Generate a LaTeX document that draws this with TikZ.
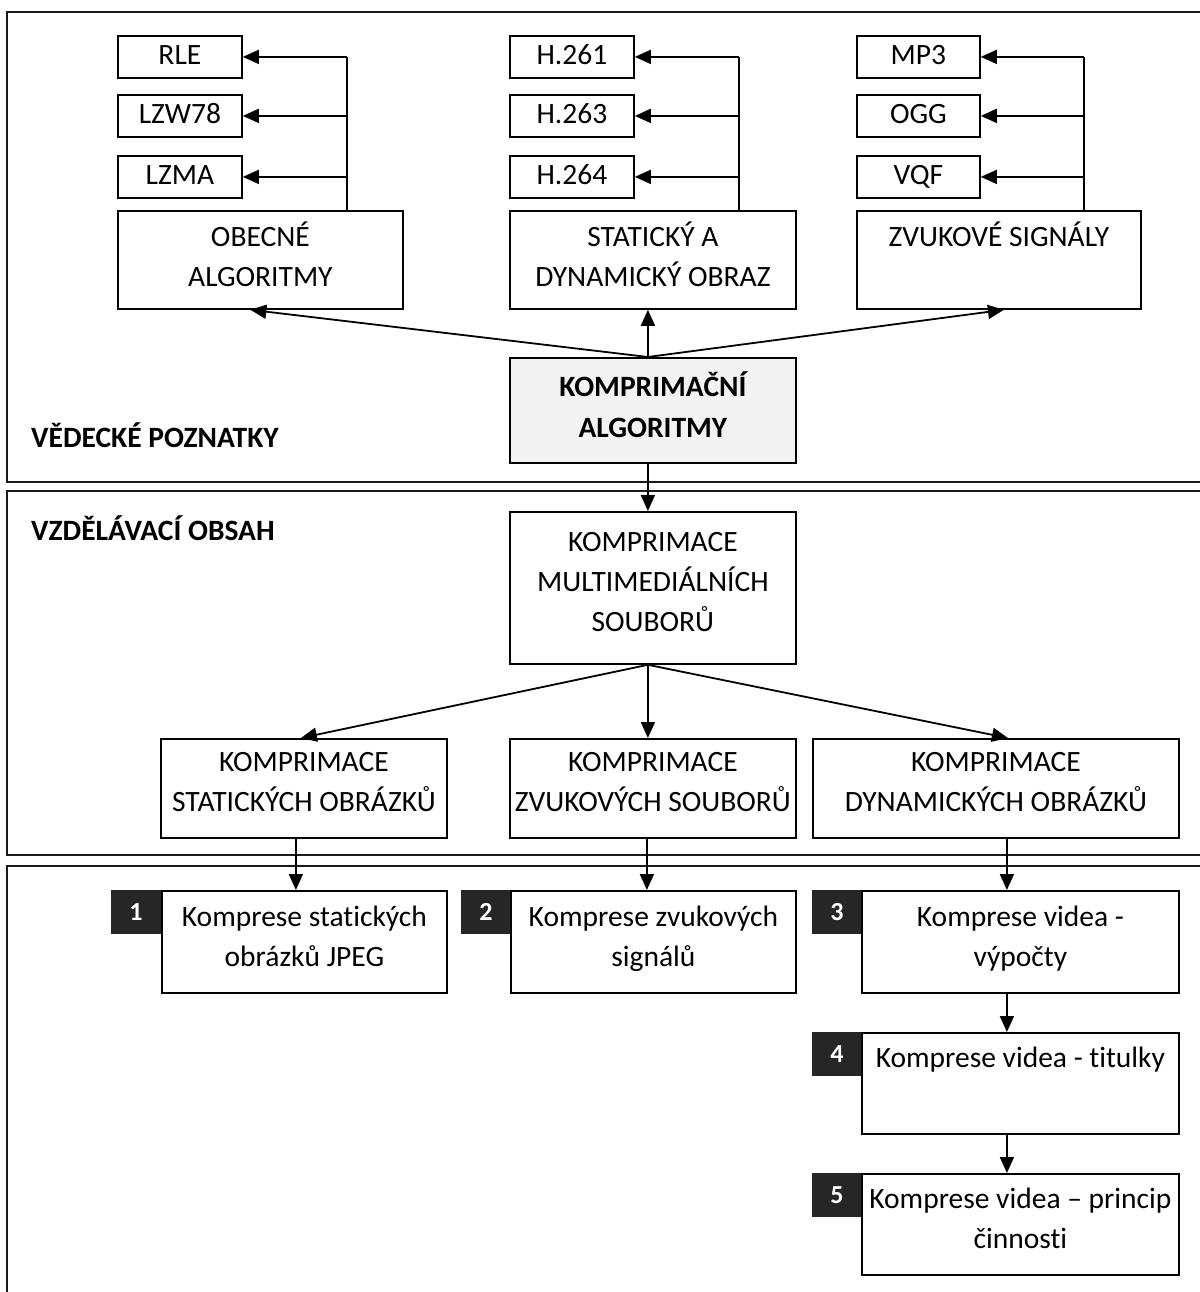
\documentclass[tikz,border=0pt]{standalone}
\usepackage{fontspec}
\setmainfont{Carlito}[Ligatures={NoCommon}]
\usetikzlibrary{arrows.meta}

\definecolor{framecol}{HTML}{1A1A1A}
\definecolor{keyfill}{HTML}{F2F2F2}
\definecolor{badgefill}{HTML}{262626}

\tikzset{
  txt/.style={font=\fontsize{29.5}{40}\selectfont},
  box/.style={txt, draw=black, line width=1.8pt, rectangle, anchor=north west,
    align=center, inner xsep=0pt, inner ysep=0pt,
    execute at begin node=\strut, execute at end node=\strut},
  keybox/.style={box, fill=keyfill, font=\fontsize{29.5}{41}\selectfont\bfseries},
  badge/.style={rectangle, fill=badgefill, draw=badgefill, line width=1pt,
    text=white, anchor=north west, inner sep=0pt,
    font=\fontsize{26}{30}\selectfont\bfseries,
    minimum width=49pt, minimum height=43pt},
  sectitle/.style={font=\fontsize{29.5}{40}\selectfont\bfseries, anchor=base west, inner sep=0pt},
  secframe/.style={draw=framecol, line width=2pt},
  arr/.style={line width=1.8pt, -{Triangle[length=16pt,width=14pt]}},
  link/.style={line width=1.8pt}
}

\begin{document}
\begin{tikzpicture}[x=1pt, y=-1pt]
\useasboundingbox (0,0) rectangle (1199,1292);

% three section frames (open to the right and bottom)
\draw[secframe] (7,12) rectangle (1220,482);
\draw[secframe] (7,491) rectangle (1220,855);
\draw[secframe] (7,866) rectangle (1220,1310);

\node[sectitle] (vp) at (31,447) {VĚDECKÉ POZNATKY};
\node[sectitle] (vo) at (31,540) {VZDĚLÁVACÍ OBSAH};

% general algorithms
\node[box, minimum width=124pt, minimum height=42pt] (rle)  at (117,35)  {RLE};
\node[box, minimum width=124pt, minimum height=42pt] (lzw)  at (117,94)  {LZW78};
\node[box, minimum width=124pt, minimum height=42pt] (lzma) at (117,155) {LZMA};
\node[box, minimum width=285pt, minimum height=98pt] (obec) at (117,210) {OBECNÉ\\ALGORITMY};

% image / video
\node[box, minimum width=124pt, minimum height=42pt] (h261) at (509,35)  {H.261};
\node[box, minimum width=124pt, minimum height=42pt] (h263) at (509,94)  {H.263};
\node[box, minimum width=124pt, minimum height=42pt] (h264) at (509,155) {H.264};
\node[box, minimum width=286pt, minimum height=98pt] (stat) at (509,210) {STATICKÝ A\\DYNAMICKÝ OBRAZ};

% audio
\node[box, minimum width=123pt, minimum height=42pt] (mp3) at (856,35)  {MP3};
\node[box, minimum width=123pt, minimum height=42pt] (ogg) at (856,94)  {OGG};
\node[box, minimum width=123pt, minimum height=42pt] (vqf) at (856,155) {VQF};
\node[box, minimum width=284pt, minimum height=98pt] (zvuk) at (856,210) {ZVUKOVÉ SIGNÁLY\\};

% central node
\node[keybox, minimum width=286pt, minimum height=105pt] (kompr) at (509,357) {KOMPRIMAČNÍ\\ALGORITMY};

% educational content
\node[box, minimum width=286pt, minimum height=152pt] (mm) at (509,511) {KOMPRIMACE\\MULTIMEDIÁLNÍCH\\SOUBORŮ};
\node[box, minimum width=286pt, minimum height=99pt] (s2a) at (160,738) {KOMPRIMACE\\STATICKÝCH OBRÁZKŮ};
\node[box, minimum width=286pt, minimum height=99pt] (s2b) at (509,738) {KOMPRIMACE\\ZVUKOVÝCH SOUBORŮ};
\node[box, minimum width=366pt, minimum height=99pt] (s2c) at (812,738) {KOMPRIMACE\\DYNAMICKÝCH OBRÁZKŮ};

% numbered activities
\node[badge] (n1) at (111,890) {1};
\node[box, minimum width=285pt, minimum height=102pt] (b1) at (161,890) {Komprese statických\\obrázků JPEG};
\node[badge] (n2) at (461,890) {2};
\node[box, minimum width=285pt, minimum height=102pt] (b2) at (510,890) {Komprese zvukových\\signálů};
\node[badge] (n3) at (812,890) {3};
\node[box, minimum width=317pt, minimum height=102pt] (b3) at (861,890) {Komprese videa -\\výpočty};
\node[badge] (n4) at (812,1032) {4};
\node[box, minimum width=317pt, minimum height=101pt] (b4) at (861,1032) {Komprese videa - titulky\\};
\node[badge] (n5) at (812,1173) {5};
\node[box, minimum width=317pt, minimum height=101pt] (b5) at (861,1173) {Komprese videa – princip\\činnosti};

% branches to the individual formats
\coordinate (ob) at ([xshift=86.5pt]obec.north);
\draw[link] (ob) -- (ob |- rle.east);
\draw[arr] (ob |- rle.east) -- (rle.east);
\draw[arr] (ob |- lzw.east) -- (lzw.east);
\draw[arr] (ob |- lzma.east) -- (lzma.east);

\coordinate (sb) at ([xshift=86pt]stat.north);
\draw[link] (sb) -- (sb |- h261.east);
\draw[arr] (sb |- h261.east) -- (h261.east);
\draw[arr] (sb |- h263.east) -- (h263.east);
\draw[arr] (sb |- h264.east) -- (h264.east);

\coordinate (zb) at ([xshift=85pt]zvuk.north);
\draw[link] (zb) -- (zb |- mp3.east);
\draw[arr] (zb |- mp3.east) -- (mp3.east);
\draw[arr] (zb |- ogg.east) -- (ogg.east);
\draw[arr] (zb |- vqf.east) -- (vqf.east);

% fan from the central node
\coordinate (ka) at ([xshift=-5pt]kompr.north);
\draw[arr] (ka) -- ([xshift=-10pt]obec.south);
\draw[arr] (ka) -- (ka |- stat.south);
\draw[arr] (ka) -- ([xshift=5pt]zvuk.south);

\coordinate (kb) at ([xshift=-5pt]kompr.south);
\draw[arr] (kb) -- (kb |- mm.north);

% fan from the multimedia node
\coordinate (ma) at ([xshift=-5pt]mm.south);
\draw[arr] (ma) -- ([xshift=-3pt]s2a.north);
\draw[arr] (ma) -- (ma |- s2b.north);
\draw[arr] (ma) -- ([xshift=12pt]s2c.north);

% down into the activities
\coordinate (p1) at ([xshift=-8pt]s2a.south);
\draw[arr] (p1) -- (p1 |- b1.north);
\coordinate (p2) at ([xshift=-6pt]s2b.south);
\draw[arr] (p2) -- (p2 |- b2.north);
\coordinate (p3) at ([xshift=11pt]s2c.south);
\draw[arr] (p3) -- (p3 |- b3.north);
\coordinate (p4) at ([xshift=-13.5pt]b3.south);
\draw[arr] (p4) -- (p4 |- b4.north);
\coordinate (p5) at ([xshift=-13.5pt]b4.south);
\draw[arr] (p5) -- (p5 |- b5.north);
\end{tikzpicture}
\end{document}
